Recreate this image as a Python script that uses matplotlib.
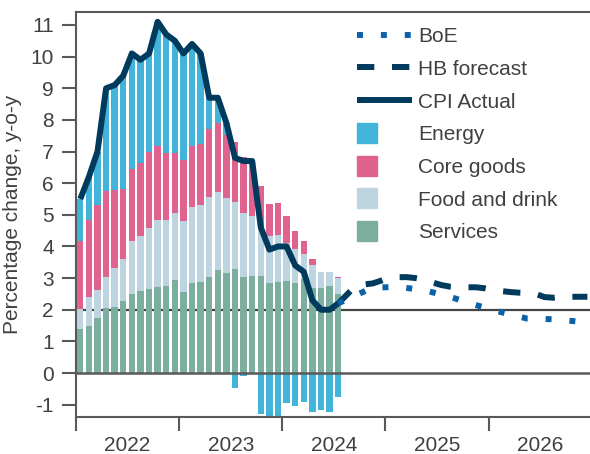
import matplotlib
matplotlib.use("Agg")
import matplotlib.pyplot as plt
import matplotlib.patches as mpatches
from matplotlib.legend_handler import HandlerPatch
from matplotlib.lines import Line2D
import numpy as np
import pandas as pd

plt.rcParams['font.family'] = ['Liberation Sans', 'DejaVu Sans']
plt.rcParams['axes.unicode_minus'] = False

# contributions to CPI inflation, Jan 2022 - Jul 2024 (pp)
months = pd.period_range("2022-01", "2024-07", freq="M")
services = [1.39, 1.49, 1.75, 2.06, 2.09, 2.28, 2.50, 2.58, 2.67, 2.73, 2.76, 2.94,
            2.56, 2.85, 2.87, 3.04, 3.26, 3.17, 3.29, 3.02, 3.07, 3.07, 2.83, 2.89,
            2.90, 2.83, 2.96, 2.70, 2.70, 2.75, 2.50]
food = [0.63, 0.90, 0.88, 0.96, 1.23, 1.32, 1.68, 1.75, 1.91, 2.11, 2.08, 2.11,
        2.24, 2.41, 2.43, 2.53, 2.45, 2.36, 2.10, 2.03, 1.89, 1.53, 1.50, 1.47,
        1.22, 1.08, 0.79, 0.72, 0.50, 0.45, 0.49]
core_goods = [2.15, 2.44, 2.68, 2.73, 2.48, 2.22, 2.28, 2.30, 2.40, 2.33, 2.10, 1.91,
              1.93, 1.91, 1.94, 2.15, 2.20, 1.99, 1.91, 1.79, 1.69, 1.31, 1.01, 1.02,
              0.84, 0.58, 0.43, 0.19, 0.00, -0.02, 0.04]
energy = [1.33, 1.37, 1.69, 3.25, 3.30, 3.58, 3.64, 3.27, 3.12, 3.93, 3.76, 3.54,
          3.37, 3.23, 2.86, 0.98, 0.79, 0.38, -0.48, -0.10, 0.05, -1.29, -1.37, -1.37,
          -0.95, -1.05, -0.93, -1.24, -1.18, -1.21, -0.76]
cpi_actual = [5.5, 6.2, 7.0, 9.0, 9.1, 9.4, 10.1, 9.9, 10.1, 11.1, 10.7, 10.5,
              10.1, 10.4, 10.1, 8.7, 8.7, 7.9, 6.8, 6.7, 6.7, 4.6, 3.9, 4.0,
              4.0, 3.4, 3.2, 2.3, 2.0, 2.0, 2.2]

hb_months = pd.period_range("2024-07", "2026-12", freq="M")
hb_forecast = [2.20, 2.47, 2.75, 2.80, 2.83, 2.92, 3.02, 3.03, 3.03, 3.00, 2.95, 2.86,
               2.78, 2.73, 2.71, 2.71, 2.71, 2.68, 2.62, 2.59, 2.56, 2.54, 2.53, 2.50,
               2.40, 2.38, 2.41, 2.41, 2.41, 2.41]

boe_months = ["2024-07", "2024-11", "2025-02", "2025-05", "2025-08",
              "2025-11", "2026-02", "2026-05", "2026-08", "2026-12"]
boe_forecast = [2.2, 2.7, 2.72, 2.62, 2.41, 2.15, 1.92, 1.72, 1.70, 1.60]

years = [2022, 2023, 2024, 2025, 2026]

start = pd.Period("2022-01", freq="M")


def month_idx(periods):
    return np.array([(pd.Period(p, freq="M") - start).n for p in periods])


C_ENERGY = "#42b4d9"
C_CORE = "#e0628e"
C_FOOD = "#bdd5e1"
C_SERV = "#7bae9f"
C_NAVY = "#003b5e"
C_BOE = "#0b62a8"
C_GREY = "#595959"
FS = 15

fig = plt.figure(figsize=(5.9, 4.54), dpi=100)
ax = fig.add_axes([76 / 590, 37 / 454, 514 / 590, 405 / 454])

x = month_idx(months)
pos_base = np.zeros(len(x))
neg_base = np.zeros(len(x))
for vals, color in [(services, C_SERV), (food, C_FOOD), (core_goods, C_CORE), (energy, C_ENERGY)]:
    vals = np.array(vals)
    bottom = np.where(vals >= 0, pos_base, neg_base)
    ax.bar(x, vals, 0.74, bottom=bottom, color=color, zorder=2, linewidth=0)
    pos_base += np.clip(vals, 0, None)
    neg_base += np.clip(vals, None, 0)

ax.axhline(2, color="#444444", lw=1.6, zorder=1)
ax.axhline(0, color=C_GREY, lw=1.8, zorder=3)

ax.plot(x, cpi_actual, color=C_NAVY, lw=4.3, zorder=4, solid_capstyle="butt")
ax.plot(month_idx(hb_months), hb_forecast, color=C_NAVY, lw=4.3,
        linestyle=(0, (2.9, 2.96)), zorder=4)
ax.plot(month_idx(boe_months), boe_forecast, color=C_BOE, lw=4.3,
        linestyle=(0, (1, 3)), zorder=5)

ax.set_xlim(-0.5, 59.3)
ax.set_ylim(-1.39, 11.41)

ax.set_yticks(range(-1, 12))
ax.set_xticks([12 * k - 0.5 for k in range(len(years))])
ax.set_xticklabels([])
ax.set_xticks([12 * k + 5.5 for k in range(len(years))], minor=True)
ax.set_xticklabels([str(y) for y in years], minor=True)
ax.tick_params(axis="x", which="major", length=10, width=1.5, color=C_GREY, direction="out")
ax.tick_params(axis="x", which="minor", length=0, pad=14, labelsize=FS, labelcolor="#404040")
ax.tick_params(axis="y", length=10, width=1.5, color=C_GREY, pad=6, labelsize=FS,
               labelcolor="#404040")

for side in ["left", "top", "bottom"]:
    ax.spines[side].set_color(C_GREY)
    ax.spines[side].set_linewidth(1.5)
ax.spines["right"].set_visible(False)

ax.set_ylabel("Percentage change, y-o-y", fontsize=FS, color="#404040", labelpad=6)


def square(legend, orig_handle, xdescent, ydescent, width, height, fontsize):
    size = 14.4
    return mpatches.Rectangle((-xdescent, -ydescent + (height - size) / 2), size, size)


handles = [
    Line2D([], [], color=C_BOE, lw=4.3, linestyle=(0, (1, 3))),
    Line2D([], [], color=C_NAVY, lw=4.3, linestyle=(0, (2.9, 2.96))),
    Line2D([], [], color=C_NAVY, lw=4.3, solid_capstyle="butt"),
    mpatches.Patch(color=C_ENERGY),
    mpatches.Patch(color=C_CORE),
    mpatches.Patch(color=C_FOOD),
    mpatches.Patch(color=C_SERV),
]
labels = ["BoE", "HB forecast", "CPI Actual", "Energy", "Core goods", "Food and drink", "Services"]
fig.legend(handles, labels, loc="upper left", bbox_to_anchor=(357 / 590, 1 - 27 / 454),
           frameon=False, fontsize=FS, handlelength=2.65, handletextpad=0.3,
           labelspacing=0.66, borderpad=0, borderaxespad=0,
           handler_map={mpatches.Patch: HandlerPatch(patch_func=square)},
           labelcolor="#404040")

fig.savefig("out.png", dpi=100)
